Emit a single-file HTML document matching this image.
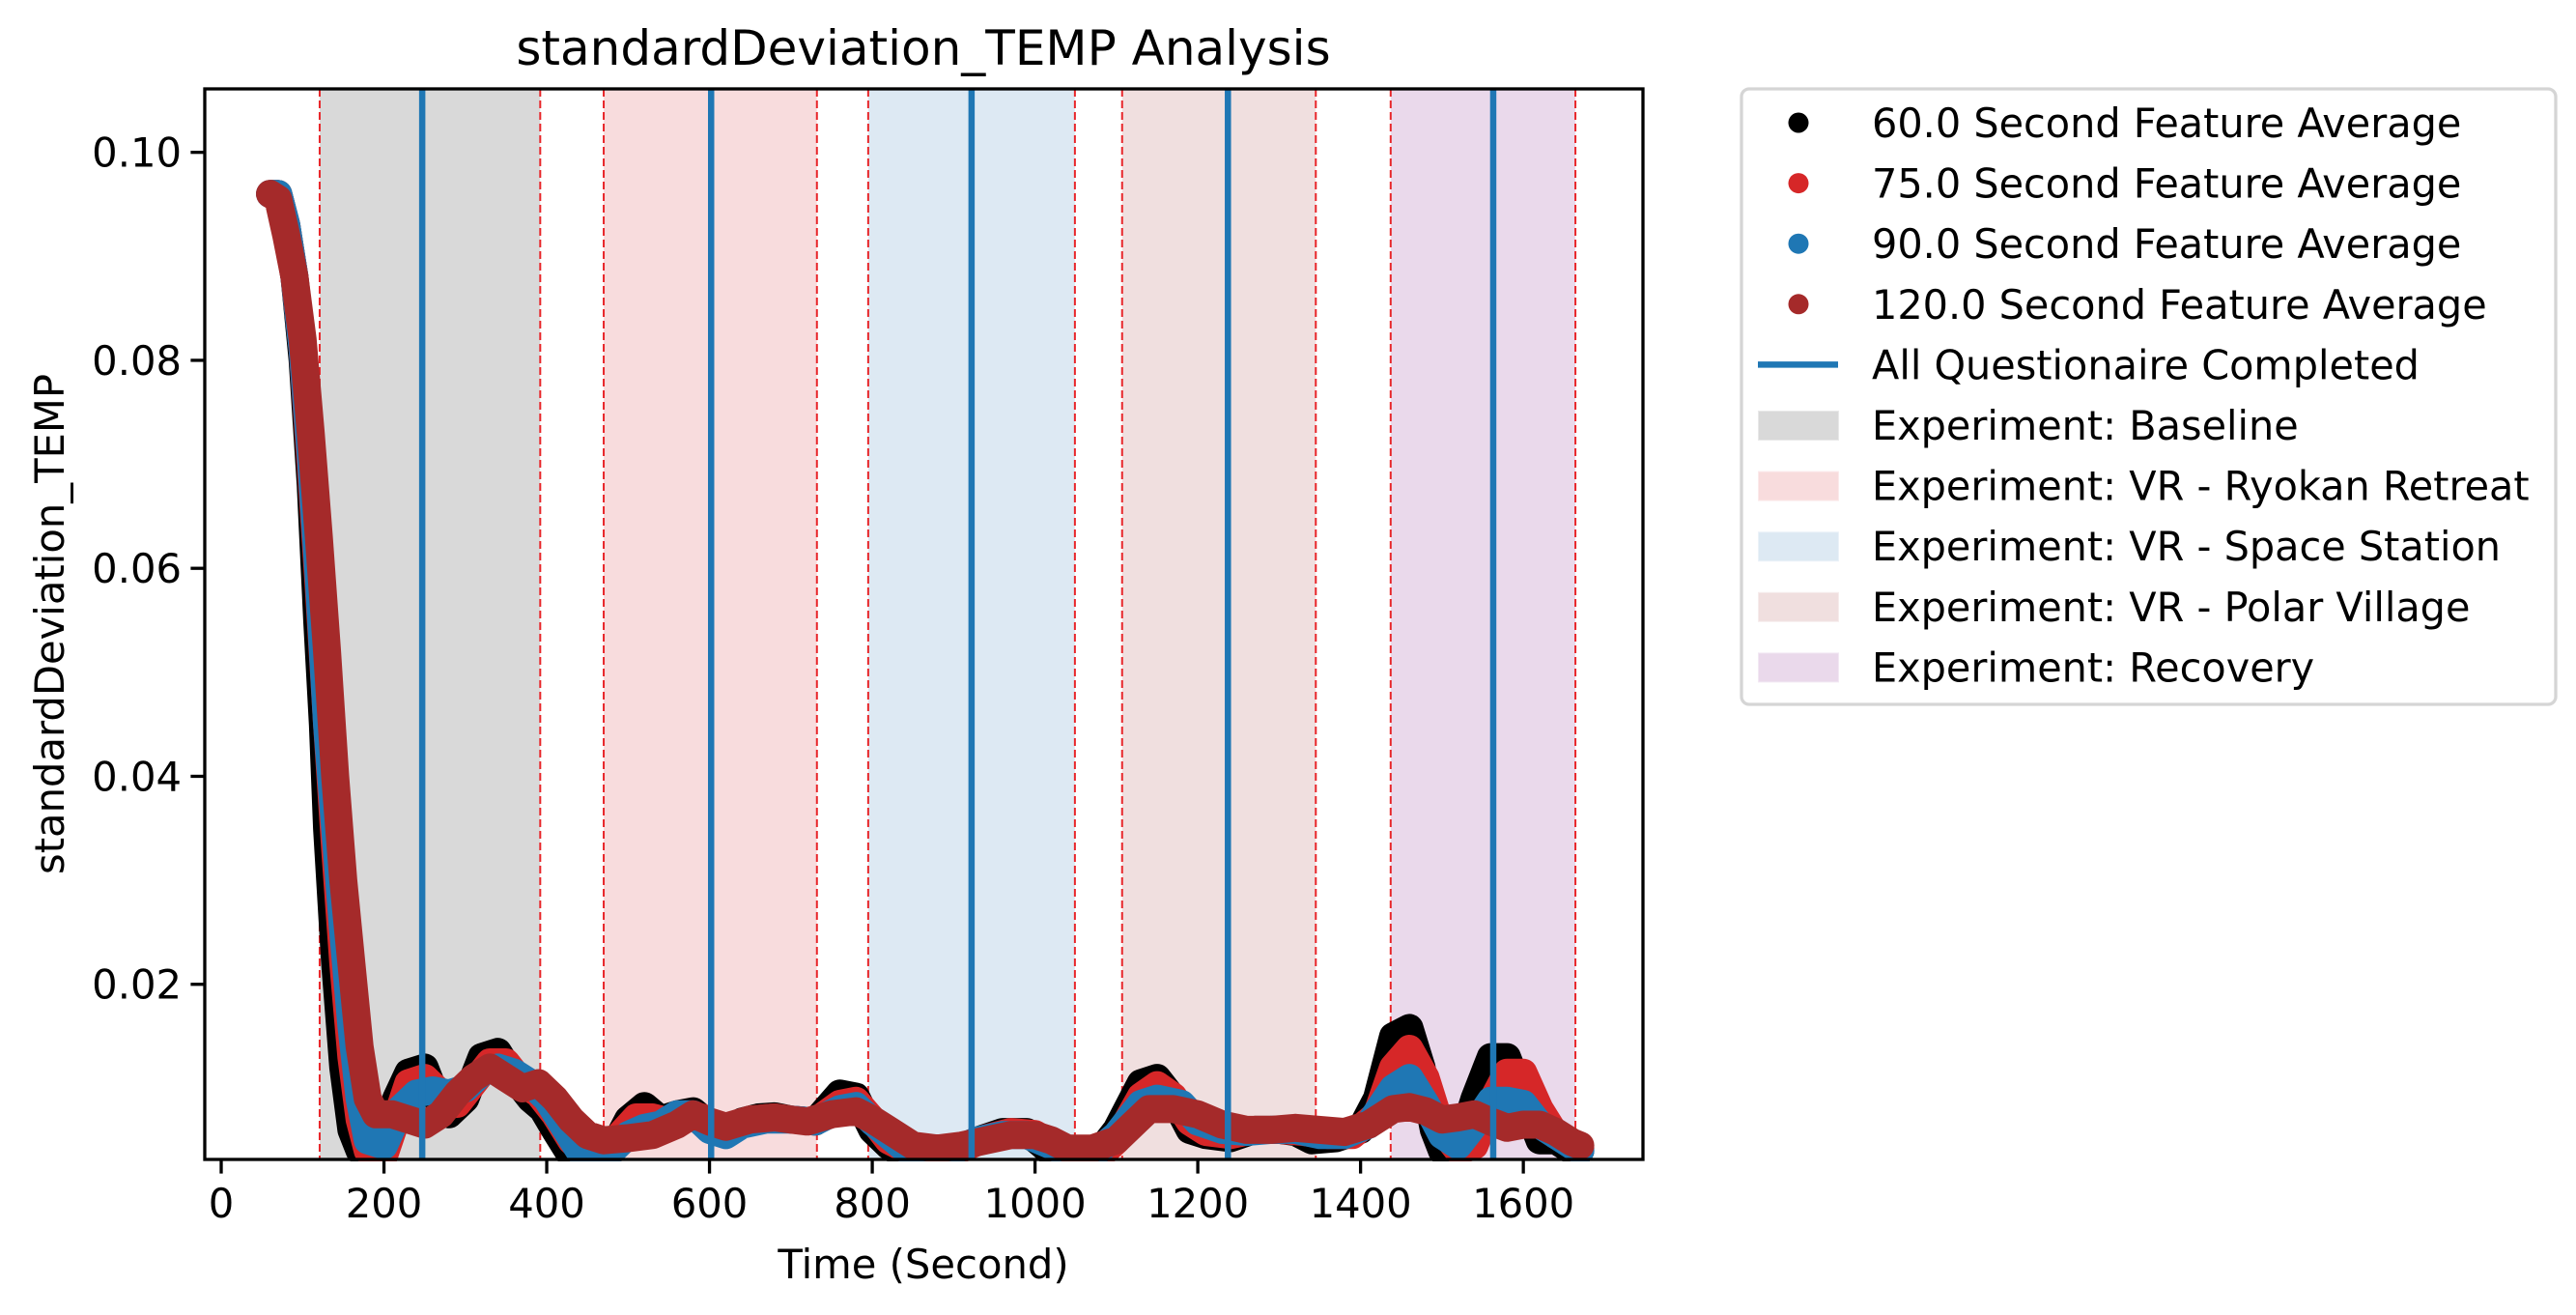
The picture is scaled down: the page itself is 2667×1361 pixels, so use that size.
<!DOCTYPE html>
<html><head><meta charset="utf-8"><style>
html,body{margin:0;padding:0;background:#fff;}
svg{display:block;font-family:"DejaVu Sans","Liberation Sans",sans-serif;}
</style></head><body>
<svg id="chart" width="2667" height="1361" viewBox="0 0 2667 1361">
<rect width="2667" height="1361" fill="#fff"/>
<g id="spans"></g>
<g id="series"></g>
<g id="axes"></g>
<text x="956" y="67" font-size="50" text-anchor="middle">standardDeviation_TEMP Analysis</text>
<text x="956" y="1323" font-size="41.7" text-anchor="middle">Time (Second)</text>
<text transform="translate(66,646) rotate(-90)" font-size="41.7" text-anchor="middle">standardDeviation_TEMP</text>
<g id="legend"></g>
</svg>
<script>
const spanStarts = [121, 470, 795, 1107, 1437];
const spanEnds = [392, 732, 1049, 1345, 1664];
const spanColors = ['#d9d9d9', '#f8dcdd', '#dde9f3', '#f0dfdf', '#ead9eb'];
const spanLabels = ['Experiment: Baseline', 'Experiment: VR - Ryokan Retreat', 'Experiment: VR - Space Station', 'Experiment: VR - Polar Village', 'Experiment: Recovery'];
const questionnaireTimes = [247, 602, 922, 1237, 1563];
const xTicks = [0, 200, 400, 600, 800, 1000, 1200, 1400, 1600];
const yTicks = [0.02, 0.04, 0.06, 0.08, 0.10];
const yTickLabels = ['0.02', '0.04', '0.06', '0.08', '0.10'];
const seriesLabels = ['60.0 Second Feature Average', '75.0 Second Feature Average', '90.0 Second Feature Average', '120.0 Second Feature Average'];
const seriesColors = ['#000000', '#d62728', '#1f77b4', '#a52a2a'];
const t60 = [60,70,80,90,100,110,118,125,130,140,150,160,170,190,200,215,230,250,265,280,300,320,340,360,380,395,410,430,460,480,500,520,540,560,580,600,620,640,660,680,700,730,760,780,800,820,840,880,900,930,960,990,1010,1030,1060,1080,1100,1130,1150,1170,1190,1210,1240,1270,1300,1320,1340,1370,1400,1420,1440,1460,1475,1490,1500,1520,1540,1560,1580,1600,1620,1640,1660,1670];
const v60 = [0.096,0.096,0.093,0.088,0.080,0.068,0.055,0.045,0.035,0.022,0.012,0.006,0.004,0.003,0.004,0.009,0.0115,0.012,0.009,0.0075,0.009,0.013,0.0135,0.011,0.009,0.008,0.006,0.0035,0.003,0.004,0.007,0.0083,0.007,0.0075,0.0078,0.0065,0.006,0.0068,0.0072,0.0073,0.007,0.0068,0.0095,0.0092,0.006,0.0045,0.0035,0.003,0.004,0.005,0.0058,0.0058,0.0045,0.003,0.003,0.004,0.006,0.0105,0.011,0.009,0.006,0.0055,0.0052,0.006,0.006,0.0058,0.005,0.0052,0.006,0.009,0.015,0.0158,0.012,0.006,0.004,0.004,0.009,0.013,0.013,0.009,0.005,0.005,0.004,0.004];
const t75 = [60,70,80,90,100,110,120,130,140,150,160,170,180,200,215,230,250,270,290,310,330,350,370,390,410,430,450,470,490,510,530,550,570,590,610,630,650,680,700,730,760,780,800,820,850,880,910,940,970,1000,1030,1060,1080,1100,1130,1150,1170,1190,1210,1240,1270,1300,1330,1360,1390,1420,1440,1460,1480,1500,1520,1540,1560,1580,1600,1620,1640,1660,1670];
const v75 = [0.096,0.096,0.093,0.088,0.081,0.070,0.058,0.045,0.033,0.022,0.013,0.007,0.004,0.0035,0.007,0.0105,0.011,0.0095,0.0085,0.0105,0.0125,0.0125,0.0105,0.0095,0.0075,0.005,0.0035,0.0035,0.0055,0.0072,0.0072,0.0068,0.0075,0.0072,0.006,0.0063,0.007,0.0072,0.007,0.0068,0.0085,0.0088,0.007,0.005,0.0038,0.0033,0.0042,0.0052,0.0058,0.0056,0.0042,0.003,0.0035,0.005,0.0092,0.0103,0.0092,0.0068,0.0058,0.0055,0.006,0.006,0.0058,0.0055,0.0055,0.0075,0.012,0.0138,0.011,0.006,0.004,0.0045,0.0085,0.0115,0.0115,0.008,0.0055,0.0048,0.0042];
const t90 = [60,70,80,90,100,110,120,130,140,150,160,170,180,200,220,240,260,280,300,320,340,360,380,400,420,440,460,480,500,520,540,560,580,600,620,640,670,700,730,760,780,800,820,840,870,900,930,960,990,1020,1050,1070,1100,1130,1150,1180,1200,1230,1260,1290,1320,1350,1380,1410,1440,1460,1480,1500,1520,1540,1560,1580,1600,1620,1640,1660,1670];
const v90 = [0.096,0.096,0.093,0.088,0.081,0.071,0.059,0.045,0.035,0.025,0.016,0.009,0.005,0.0045,0.008,0.0095,0.0098,0.0095,0.010,0.0115,0.012,0.0115,0.0105,0.009,0.0065,0.004,0.0035,0.004,0.0055,0.0062,0.0065,0.0075,0.0075,0.006,0.0055,0.0065,0.007,0.007,0.0068,0.008,0.0083,0.0068,0.0055,0.0042,0.0035,0.004,0.005,0.0055,0.0055,0.0045,0.0033,0.0035,0.0055,0.0085,0.009,0.0085,0.0068,0.006,0.0058,0.006,0.006,0.0055,0.0055,0.0065,0.010,0.011,0.0085,0.0055,0.0045,0.0065,0.0088,0.0088,0.0085,0.0065,0.0055,0.0045,0.004];
const t120 = [60,70,80,90,100,110,120,130,140,150,160,170,180,190,210,230,250,270,290,310,330,350,370,390,410,430,450,470,500,530,560,580,600,620,650,680,700,720,750,780,800,820,850,880,910,940,970,1000,1020,1040,1070,1100,1120,1140,1170,1200,1230,1260,1290,1320,1350,1380,1410,1440,1460,1480,1500,1520,1540,1560,1580,1600,1620,1640,1660,1670];
const v120 = [0.096,0.0955,0.092,0.088,0.082,0.073,0.063,0.052,0.040,0.030,0.022,0.014,0.009,0.0075,0.0075,0.007,0.0065,0.0075,0.0095,0.011,0.012,0.011,0.010,0.0105,0.009,0.007,0.0055,0.005,0.0052,0.0055,0.0065,0.0075,0.0068,0.0063,0.007,0.0072,0.007,0.0068,0.0075,0.0078,0.007,0.006,0.0045,0.0042,0.0045,0.005,0.0055,0.0055,0.005,0.0042,0.0042,0.005,0.0065,0.008,0.008,0.0075,0.0065,0.006,0.006,0.0062,0.006,0.0058,0.0065,0.008,0.0082,0.0078,0.007,0.0072,0.0075,0.0068,0.0062,0.0065,0.0065,0.0058,0.0048,0.0045];
const seriesT = [t60, t75, t90, t120];
const seriesV = [v60, v75, v90, v120];

const NS = 'http://www.w3.org/2000/svg';
const L = 212, R = 1701, T = 92, B = 1200;
const xMin = -20.2, xMax = 1747, yMin = 0.00316, yMax = 0.1061;
function xs(t){ return L + (t - xMin) / (xMax - xMin) * (R - L); }
function ys(v){ return B - (v - yMin) / (yMax - yMin) * (B - T); }
function mk(tag, attrs, parent){ const e = document.createElementNS(NS, tag); for (const k in attrs) e.setAttribute(k, attrs[k]); parent.appendChild(e); return e; }

const spansG = document.getElementById('spans');
for (let i = 0; i < spanStarts.length; i++) {
  const r = mk('rect', {x: xs(spanStarts[i]), y: T, width: xs(spanEnds[i]) - xs(spanStarts[i]), height: B - T, fill: spanColors[i]}, spansG);
  
  
  for (const t of [spanStarts[i], spanEnds[i]]) {
    const d = mk('line', {x1: xs(t), x2: xs(t), y1: T, y2: B, stroke: '#e8262a', 'stroke-width': 2, 'stroke-dasharray': '8,4'}, spansG);
    
    
  }
}
const seriesG = document.getElementById('series');
for (let s = 0; s < seriesT.length; s++) {
  const pts = seriesT[s].map((t, i) => xs(t).toFixed(1) + ',' + ys(seriesV[s][i]).toFixed(1)).join(' ');
  const p = mk('polyline', {points: pts, fill: 'none', stroke: seriesColors[s], 'stroke-width': 29, 'stroke-linejoin': 'round', 'stroke-linecap': 'round'}, seriesG);
  
  
}
mk('rect', {x: 0, y: B + 2, width: R + 20, height: 200, fill: '#fff'}, seriesG);
for (const t of questionnaireTimes) {
  const q = mk('line', {x1: xs(t), x2: xs(t), y1: T, y2: B, stroke: '#1f77b4', 'stroke-width': 6.5}, seriesG);
  
  
}
const axG = document.getElementById('axes');
const frame = mk('rect', {x: L, y: T, width: R - L, height: B - T, fill: 'none', stroke: '#000', 'stroke-width': 3.3}, axG);


for (const t of xTicks) {
  mk('line', {x1: xs(t), x2: xs(t), y1: B, y2: B + 14.6, stroke: '#000', 'stroke-width': 3.3}, axG);
  const lab = mk('text', {x: xs(t), y: B + 60, 'font-size': 41.7, 'text-anchor': 'middle'}, axG);
  lab.textContent = String(t);
  
  
}
for (let i = 0; i < yTicks.length; i++) {
  mk('line', {x1: L - 14.6, x2: L, y1: ys(yTicks[i]), y2: ys(yTicks[i]), stroke: '#000', 'stroke-width': 3.3}, axG);
  const lab = mk('text', {x: L - 24, y: ys(yTicks[i]) + 15, 'font-size': 41.7, 'text-anchor': 'end'}, axG);
  lab.textContent = yTickLabels[i];
  
  
}
const lg = document.getElementById('legend');
const box = mk('rect', {x: 1803, y: 92, width: 843, height: 637, rx: 8, fill: '#fff', stroke: '#d5d5d5', 'stroke-width': 3.3}, lg);


const entries = [];
for (let i = 0; i < 4; i++) entries.push({type: 'dot', color: seriesColors[i], label: seriesLabels[i]});
entries.push({type: 'line', color: '#1f77b4', label: 'All Questionaire Completed'});
for (let i = 0; i < 5; i++) entries.push({type: 'patch', color: spanColors[i], label: spanLabels[i]});
entries.forEach((e, i) => {
  const cy = 127 + i * 62.6;
  if (e.type === 'dot') mk('circle', {cx: 1862, cy: cy, r: 10.5, fill: e.color}, lg);
  else if (e.type === 'line') mk('line', {x1: 1820, x2: 1903, y1: cy, y2: cy, stroke: e.color, 'stroke-width': 6.5}, lg);
  else mk('rect', {x: 1821, y: cy - 14, width: 82, height: 29, fill: e.color, stroke: e.color, 'stroke-width': 2, 'stroke-opacity': 0.6}, lg);
  const tx = mk('text', {x: 1938, y: cy + 15, 'font-size': 41.4}, lg);
  tx.textContent = e.label;
  
  
});
</script>
</body></html>
